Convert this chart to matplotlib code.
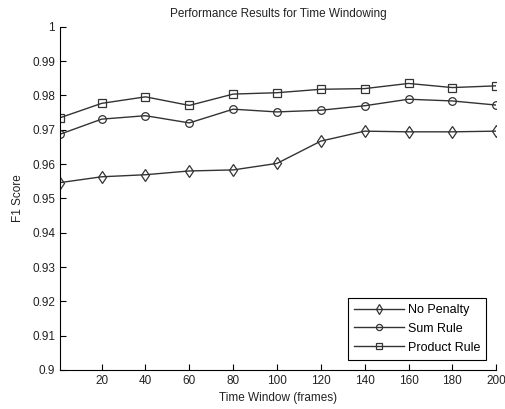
import matplotlib.pyplot as plt

# --- data ---
windows = [1, 20, 40, 60, 80, 100, 120, 140, 160, 180, 200]
no_penalty = [0.9546, 0.9563, 0.9569, 0.9580, 0.9583, 0.9602, 0.9667, 0.9696, 0.9694, 0.9694, 0.9696]
sum_rule = [0.9687, 0.9731, 0.9741, 0.9720, 0.9760, 0.9752, 0.9757, 0.9770, 0.9789, 0.9784, 0.9772]
product_rule = [0.9735, 0.9777, 0.9796, 0.9771, 0.9804, 0.9808, 0.9818, 0.9820, 0.9835, 0.9823, 0.9828]
x_ticks = [20, 40, 60, 80, 100, 120, 140, 160, 180, 200]
y_ticks = [0.9, 0.91, 0.92, 0.93, 0.94, 0.95, 0.96, 0.97, 0.98, 0.99, 1]

plt.rcParams['font.family'] = ['Liberation Sans', 'DejaVu Sans']
plt.rcParams['font.size'] = 8.5

fig = plt.figure(figsize=(5.06, 4.09), dpi=100)
ax = fig.add_axes([0.1186, 0.0954, 0.862, 0.839])

line_col = '#333333'
style = dict(color=line_col, lw=1.0, markerfacecolor='none', markeredgecolor=line_col,
             markeredgewidth=0.9)
ax.plot(windows, no_penalty, marker='d', markersize=6.5, label='No Penalty', **style)
ax.plot(windows, sum_rule, marker='o', markersize=5.5, label='Sum Rule', **style)
ax.plot(windows, product_rule, marker='s', markersize=5.5, label='Product Rule', **style)

ax.set_xlim(1, 200)
ax.set_ylim(0.9, 1.0)
ax.set_xticks(x_ticks)
ax.set_yticks(y_ticks)
ax.set_yticklabels(['0.9', '0.91', '0.92', '0.93', '0.94', '0.95', '0.96', '0.97', '0.98', '0.99', '1'])
ax.tick_params(direction='in', length=4, width=0.8, colors='black', labelcolor='#222222')
for s in ['top', 'right']:
    ax.spines[s].set_visible(False)
for s in ['left', 'bottom']:
    ax.spines[s].set_linewidth(0.8)

ax.set_title('Performance Results for Time Windowing', fontsize=8.5, color='#222222', pad=7)
ax.set_xlabel('Time Window (frames)', color='#222222', labelpad=4)
ax.set_ylabel('F1 Score', color='#222222', labelpad=6)

leg = ax.legend(loc='lower right', fancybox=False, edgecolor='black', framealpha=1,
                borderaxespad=0.8, handlelength=4.0, handletextpad=0.3, labelspacing=0.55,
                markerscale=0.8, borderpad=0.5, prop={'size': 9})
leg.get_frame().set_linewidth(0.8)

fig.savefig('out.png', dpi=100)
